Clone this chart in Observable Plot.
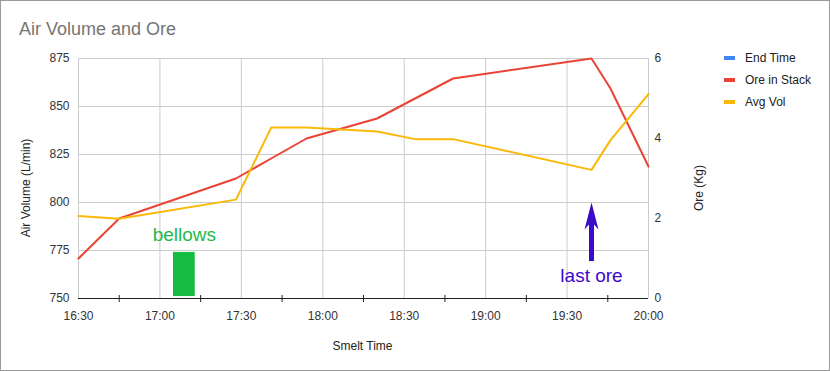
<!DOCTYPE html>
<html><head><meta charset="utf-8">
<script src="https://cdn.jsdelivr.net/npm/d3@7"></script>
<script src="https://cdn.jsdelivr.net/npm/@observablehq/plot@0.6"></script>
<style>
body{margin:0;background:#fff;font-family:"Liberation Sans",Arial,sans-serif;}
#wrap{position:relative;width:830px;height:371px;overflow:hidden;background:#fff;}
#chart{position:absolute;left:0;top:0;}
#frame{position:absolute;left:0;top:0;width:830px;height:371px;box-sizing:border-box;border:1px solid #9a9a9a;pointer-events:none;}
#title{position:absolute;left:19px;top:20px;font-size:18px;line-height:18px;color:#757575;white-space:nowrap;}
.leg{position:absolute;left:724px;height:12px;display:flex;align-items:center;font-size:12px;line-height:12px;color:#222;white-space:nowrap;}
.sw{display:inline-block;width:11px;height:4px;margin-right:10px;}
</style></head><body>
<div id="wrap"><div id="chart"></div><div id="title"></div><div id="legend"></div><div id="frame"></div></div>
<script>
const chartTitle = "Air Volume and Ore";
const xLabel = "Smelt Time";
const yLeftLabel = "Air Volume (L/min)";
const yRightLabel = "Ore (Kg)";
const times = ["16:30","16:45","17:28","17:41","17:54","18:20","18:34","18:48","19:39","19:46","20:00"];
const avgVol = [793,791.5,801.5,839,839,837,833,833,817,832.5,856.5];
const oreInStack = [1,2,3,3.5,4,4.5,5,5.5,6,5.25,3.3];
const seriesNames = ["End Time","Ore in Stack","Avg Vol"];
const seriesColors = ["#4285F4","#EA4335","#F9B906"];
const timeTicks = ["16:30","17:00","17:30","18:00","18:30","19:00","19:30","20:00"];
const minorTimeTicks = ["16:45","17:15","17:45","18:15","18:45","19:15","19:45"];
const volTicks = [750,775,800,825,850,875];
const oreTicks = [0,2,4,6];
const bellowsNote = [{label:"bellows", start:"17:05", end:"17:13", low:751, high:774, labelAt:"17:09", labelVol:783}];
const lastOreNote = [{label:"last ore", at:"19:39", tipVol:800, shaftTop:790, tailVol:769.5, labelVol:761.7}];

const toMin = s => { const [h,m] = s.split(":").map(Number); return h*60+m; };
const fmtTime = v => `${Math.floor(v/60)}:${String(v%60).padStart(2,"0")}`;
const oreToVol = k => 750 + k*125/6;
const volToOre = v => (v-750)*6/125;

const rows = times.map((t,i)=>({t: toMin(t), vol: avgVol[i], ore: oreInStack[i]}));

const green = "#14bd42", greenText = "#22b94c", purple = "#3a0bc8";
const arrowHead = {draw(ctx, size){ const s = Math.sqrt(size/Math.PI);
  ctx.moveTo(0,0); ctx.lineTo(7*s,27*s); ctx.lineTo(2.5*s,22*s); ctx.lineTo(-2.5*s,22*s); ctx.lineTo(-7*s,27*s); ctx.closePath(); }};

const font = '"Liberation Sans", Arial, sans-serif';
const chart = Plot.plot({
  width: 830, height: 371,
  marginLeft: 78, marginRight: 182, marginTop: 58, marginBottom: 73,
  style: {fontFamily: font, fontSize: "12px", color: "#333", background: "transparent", overflow: "visible"},
  x: {type: "linear", domain: [toMin(timeTicks[0]), toMin(timeTicks[timeTicks.length-1])], axis: null},
  y: {type: "linear", domain: [volTicks[0], volTicks[volTicks.length-1]], axis: null},
  marks: [
    Plot.gridX(timeTicks.map(toMin), {stroke: "#cccccc", strokeOpacity: 1}),
    Plot.gridY(volTicks, {stroke: "#cccccc", strokeOpacity: 1}),
    Plot.axisY(volTicks, {anchor: "left", tickSize: 0, tickPadding: 9, label: null, fill: "#333"}),
    Plot.axisY(oreTicks.map(oreToVol), {anchor: "right", tickSize: 0, tickPadding: 6, label: null, fill: "#333", tickFormat: v => String(Math.round(volToOre(v)))}),
    Plot.axisX(timeTicks.map(toMin), {anchor: "bottom", tickSize: 0, tickPadding: 13, label: null, fill: "#333", tickFormat: fmtTime}),
    Plot.ruleX(minorTimeTicks.map(toMin), {y1: 750, y2: 750, insetTop: -3, insetBottom: -4, stroke: "#222"}),
    Plot.ruleY([volTicks[0]], {stroke: "#222"}),
    Plot.rect(bellowsNote, {x1: d => toMin(d.start), x2: d => toMin(d.end), y1: "low", y2: "high", fill: green}),
    Plot.text(bellowsNote, {x: d => toMin(d.labelAt), y: "labelVol", text: "label", fill: greenText, fontSize: 19, lineAnchor: "middle"}),
    Plot.line(rows, {x: "t", y: d => oreToVol(d.ore), stroke: seriesColors[1], strokeWidth: 2}),
    Plot.line(rows, {x: "t", y: "vol", stroke: seriesColors[2], strokeWidth: 2}),
    Plot.link(lastOreNote, {x1: d => toMin(d.at), x2: d => toMin(d.at), y1: "tailVol", y2: "shaftTop", stroke: purple, strokeWidth: 5, strokeLinecap: "butt"}),
    Plot.dot(lastOreNote, {x: d => toMin(d.at), y: "tipVol", symbol: arrowHead, r: 1, fill: purple, stroke: "none"}),
    Plot.text(lastOreNote, {x: d => toMin(d.at), y: "labelVol", text: "label", fill: purple, fontSize: 19, lineAnchor: "middle"}),
    Plot.text([yLeftLabel], {frameAnchor: "left", rotate: -90, dx: -52, dy: 9.5, fill: "#222", fontSize: 12, textAnchor: "middle", lineAnchor: "middle"}),
    Plot.text([yRightLabel], {frameAnchor: "right", rotate: -90, dx: 51, dy: 9.5, fill: "#222", fontSize: 12, textAnchor: "middle", lineAnchor: "middle"}),
    Plot.text([xLabel], {frameAnchor: "bottom", dx: -1, dy: 48, fill: "#222", fontSize: 12, textAnchor: "middle", lineAnchor: "middle"})
  ]
});
document.getElementById("chart").appendChild(chart);
document.getElementById("title").textContent = chartTitle;
const leg = document.getElementById("legend");
const legendCenters = [57.5, 79.5, 101.5];
seriesNames.forEach((n,i)=>{
  const row = document.createElement("div");
  row.className = "leg";
  row.style.top = (legendCenters[i]-6) + "px";
  const sw = document.createElement("span");
  sw.className = "sw"; sw.style.background = seriesColors[i];
  row.appendChild(sw);
  row.appendChild(document.createTextNode(n));
  leg.appendChild(row);
});
</script>
</body></html>
